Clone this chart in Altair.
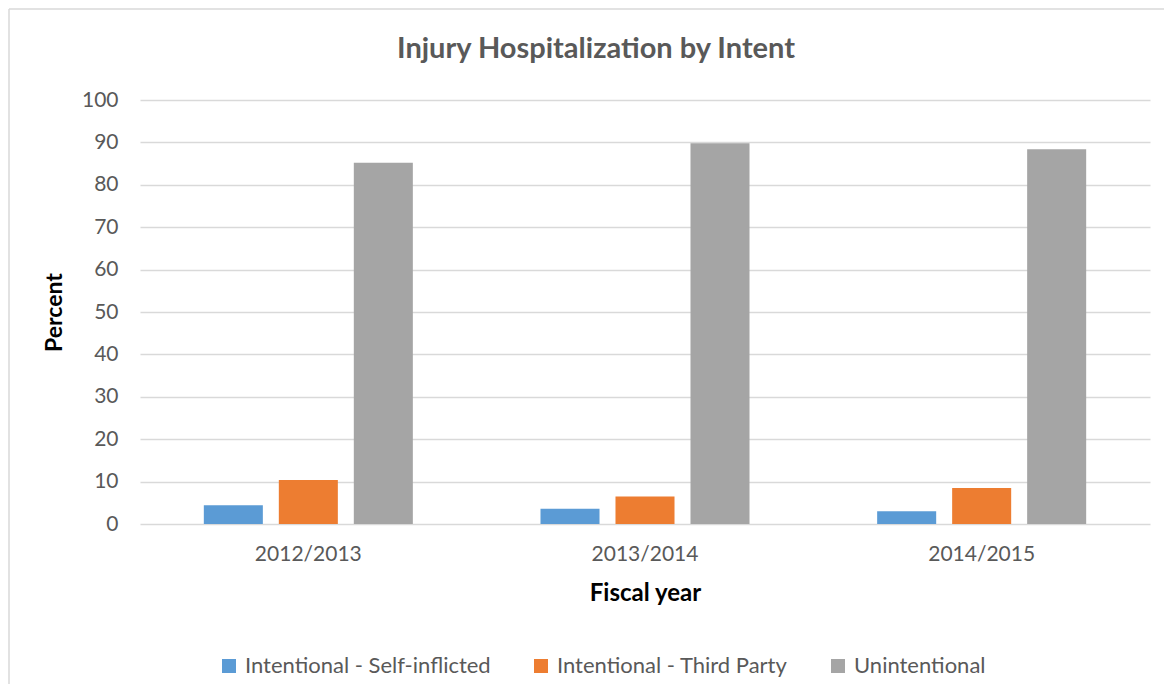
import altair as alt
import pandas as pd

years = ["2012/2013", "2013/2014", "2014/2015"]
series = ["Intentional - Self-inflicted", "Intentional - Third Party", "Unintentional"]
self_inflicted = [4.4, 3.6, 3.0]
third_party = [10.4, 6.5, 8.5]
unintentional = [85.2, 89.8, 88.4]
colors = ["#5B9BD5", "#ED7D31", "#A5A5A5"]
chart_title = "Injury Hospitalization by Intent"

rows = []
for i, y in enumerate(years):
    for s, vals in zip(series, [self_inflicted, third_party, unintentional]):
        rows.append({"year": y, "intent": s, "pct": vals[i]})
df = pd.DataFrame(rows)

FONT = "Lato"
GREY = "#595959"

bars = alt.Chart(df).mark_bar().encode(
    x=alt.X("year:N", sort=years,
            scale=alt.Scale(paddingInner=0, paddingOuter=0),
            axis=alt.Axis(title="Fiscal year", labelAngle=0, domain=False, ticks=False,
                          labelFontSize=21, labelColor=GREY, labelFont=FONT, labelPadding=19,
                          titleFontSize=24, titleFont=FONT, titleFontWeight="bold",
                          titleColor="black", titlePadding=17)),
    xOffset=alt.XOffset("intent:N", sort=series,
                        scale=alt.Scale(paddingInner=0.213, paddingOuter=0.851)),
    y=alt.Y("pct:Q", scale=alt.Scale(domain=[0, 100]),
            axis=alt.Axis(title="Percent", values=list(range(0, 101, 10)),
                          domain=False, ticks=False, gridColor="#d9d9d9", gridWidth=1.5,
                          labelFontSize=21, labelColor=GREY, labelFont=FONT, labelPadding=22,
                          titleFontSize=23, titleFont=FONT, titleFontWeight="bold",
                          titleColor="black", titlePadding=15)),
    color=alt.Color("intent:N", sort=series,
                    scale=alt.Scale(domain=series, range=colors),
                    legend=alt.Legend(title=None, orient="none", direction="horizontal",
                                      legendX=78, legendY=555, symbolType="square",
                                      symbolSize=196, symbolStrokeWidth=0, labelLimit=0,
                                      labelFontSize=22, labelFont=FONT, labelColor=GREY,
                                      columnPadding=39, labelOffset=5)),
)

frame_df = pd.DataFrame({"a": [0]})
left_edge = alt.Chart(frame_df).mark_rule(color="#d9d9d9", strokeWidth=1.5).encode(
    x=alt.value(-131), y=alt.value(-91), y2=alt.value(800))
top_edge = alt.Chart(frame_df).mark_rule(color="#d9d9d9", strokeWidth=1.5).encode(
    y=alt.value(-91), x=alt.value(-131), x2=alt.value(1300))

title = alt.Chart(pd.DataFrame({"t": [chart_title]})).mark_text(
    font=FONT, fontSize=29, fontWeight="bold", color=GREY, align="center",
    baseline="alphabetic"
).encode(text="t:N", x=alt.value(456), y=alt.value(-42))

chart = alt.layer(left_edge, top_edge, title, bars).properties(
    width=1010, height=424,
    autosize=alt.AutoSizeParams(type="none"),
    padding={"left": 132, "top": 92, "right": 14, "bottom": 160},
).configure_view(stroke=None)

chart.save("out.html", embed_options={"renderer": "svg", "actions": False})
